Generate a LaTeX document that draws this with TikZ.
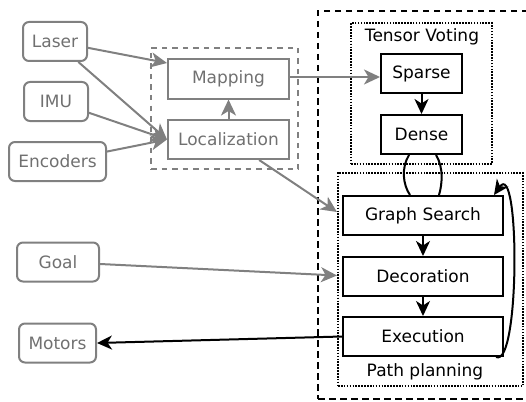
\documentclass[tikz,border=0pt]{standalone}
\usepackage{fontspec}
\setmainfont{DejaVu Sans}
\usetikzlibrary{arrows.meta,calc}
\definecolor{gline}{RGB}{128,128,128}
\definecolor{gtext}{RGB}{112,112,112}
\begin{document}
\begin{tikzpicture}[x=1pt,y=-1pt,
  font=\fontsize{17}{19}\selectfont,
  lw/.style={line width=2pt},
  src/.style={draw=gline,lw,rounded corners=6pt,text=gtext,minimum height=39pt,inner sep=0pt},
  gbox/.style={draw=gline,lw,text=gtext,minimum width=121pt,minimum height=39pt,inner sep=0pt},
  bbox/.style={draw=black,lw,minimum height=39pt,inner sep=0pt},
  garrow/.style={draw=gline,line width=2pt,-{Stealth[length=16pt,width=15pt,inset=4.5pt]}},
  barrow/.style={draw=black,line width=2pt,-{Stealth[length=15pt,width=14pt,inset=4.5pt]}},
  dotbox/.style={draw=black,line width=1.6pt,dash pattern=on 1.6pt off 1.3pt},
  bigdash/.style={draw=black,line width=2pt,dash pattern=on 6.5pt off 4.5pt},
  gdash/.style={draw=gline,line width=2pt,dash pattern=on 5.5pt off 5pt}
]
\useasboundingbox (0,0) rectangle (526,401);
\clip (0,0) rectangle (526,401);

% containers
\node[bigdash,minimum width=230pt,minimum height=388pt,inner sep=0pt] (big) at (433,205) {};
\node[gdash,minimum width=147pt,minimum height=121pt,inner sep=0pt] (loc) at (224.5,108.5) {};
\node[dotbox,minimum width=141pt,minimum height=141pt,inner sep=0pt] (tv) at (421.5,93.5) {};
\node[dotbox,minimum width=185pt,minimum height=213pt,inner sep=0pt] (pp) at (430.5,279.5) {};
\node (tvlabel) at (422,37) {Tensor Voting};
\node (pplabel) at (425,372) {Path planning};

% sources
\node[src,minimum width=64pt] (laser) at (55,41.5) {Laser};
\node[src,minimum width=64pt] (imu) at (56,101.5) {IMU};
\node[src,minimum width=97pt] (enc) at (57.5,161.5) {Encoders};
\node[src,minimum width=82pt] (goal) at (58,262) {Goal};
\node[src,minimum width=77pt] (motors) at (57.5,343) {Motors};

% gray boxes
\node[gbox] (map) at (228.5,79) {Mapping};
\node[gbox] (locz) at (228.5,139.5) {Localization};

% black boxes
\node[bbox,minimum width=81pt] (sparse) at (421.5,73.5) {Sparse};
\node[bbox,minimum width=81pt] (dense) at (421.5,134.5) {Dense};
\node[bbox,minimum width=160pt] (gs) at (423,215.5) {Graph Search};
\node[bbox,minimum width=160pt] (deco) at (423,276.5) {Decoration};
\node[bbox,minimum width=160pt] (exec) at (423,336.5) {Execution};

\coordinate (gsin) at (337,212);
\coordinate (decoin) at (337,275.5);

% gray arrows
\draw[garrow] (laser) -- ([yshift=16pt]map.west);
\draw[garrow] (laser) -- (locz.west);
\draw[garrow] (imu) -- (locz.west);
\draw[garrow] (enc) -- (locz.west);
\draw[garrow] (locz) -- (map);
\draw[garrow] ([yshift=2pt]map.east) -- ([yshift=-3.5pt]sparse.west);
\draw[garrow] (locz) -- (gsin);
\draw[garrow] ([yshift=-2pt]goal.east) -- (decoin);

% black arrows
\draw[barrow] (sparse) -- (dense);
\draw[barrow] (gs) -- (deco);
\draw[barrow] (deco) -- (exec);
\draw[barrow] (exec.west) -- (motors.east);

% links between Dense and Graph Search
\draw[line width=2pt] (dense.south -| 409,0) .. controls (401,168) and (403,185) .. (gs.north -| 410,0);
\draw[line width=2pt] (dense.south -| 436,0) .. controls (444,168) and (442,185) .. (gs.north -| 439,0);

% loop from Execution back to Graph Search
\draw[barrow] ([xshift=-8pt]exec.south east) .. controls (520,368) and (520,158) .. ([xshift=-10pt]gs.north east);
\end{tikzpicture}
\end{document}
